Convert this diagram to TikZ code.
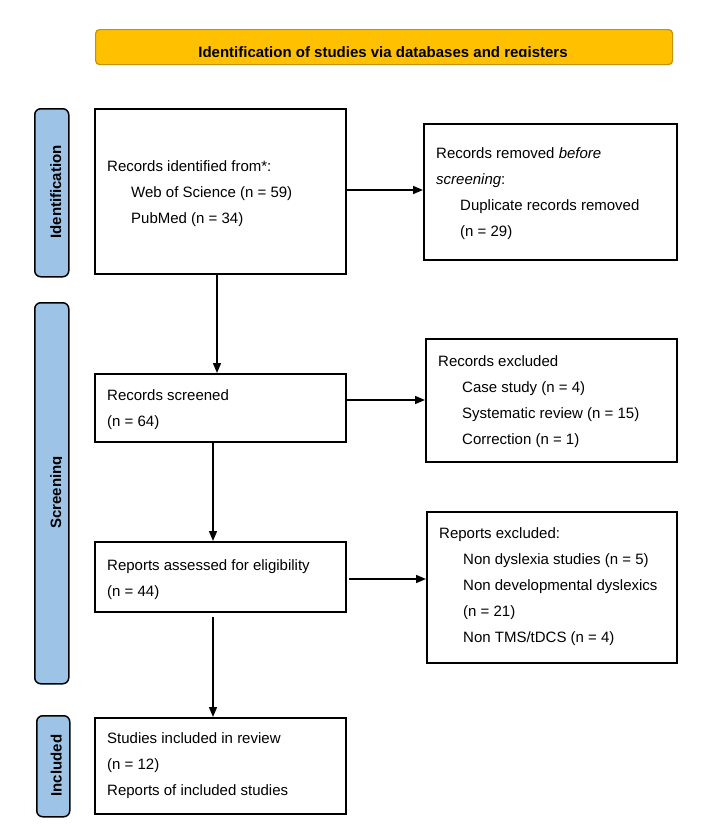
\documentclass[tikz,border=0pt]{standalone}
\usepackage{fontspec}
\setmainfont{Liberation Sans}
\usetikzlibrary{arrows.meta}
\definecolor{bannerfill}{HTML}{FFC000}
\definecolor{bannerdraw}{HTML}{C49500}
\definecolor{sideblue}{HTML}{9DC3E6}
\tikzset{
  box/.style={draw=black, line width=1.6pt, fill=white, rectangle, inner sep=0pt, anchor=north west},
  sidebox/.style={draw=black, line width=1.5pt, fill=sideblue, rectangle, rounded corners=6pt, inner sep=0pt, anchor=north west},
  banner/.style={draw=bannerdraw, line width=1.2pt, fill=bannerfill, rectangle, rounded corners=4pt, inner sep=0pt, anchor=north west},
  txt/.style={anchor=base west, inner sep=0pt, font=\fontsize{15}{18}\selectfont},
  sidetxt/.style={anchor=base, inner sep=0pt, rotate=90, font=\fontsize{15}{18}\selectfont\bfseries},
  bantxt/.style={anchor=base, inner sep=0pt, font=\fontsize{15}{18}\selectfont\bfseries},
  arr/.style={-{Triangle[length=10pt,width=8pt]}, line width=1.6pt}
}
\begin{document}
\begin{tikzpicture}[x=1pt,y=-1pt]
\useasboundingbox[fill=white] (0,0) rectangle (721,838);

% banner
\node[banner, minimum width=577pt, minimum height=35pt] (ban) at (95,29) {};
\begin{scope}
  \clip (95,29) rectangle (672,56.5);
  \node[bantxt] (bant) at (383,57.5) {Identification of studies via databases and registers};
\end{scope}

% side bars
\node[sidebox, minimum width=34pt, minimum height=168pt] (sid) at (34,108) {};
\node[sidebox, minimum width=34pt, minimum height=381pt] (sscr) at (34,302) {};
\node[sidebox, minimum width=33pt, minimum height=101pt] (sinc) at (36,715) {};
\begin{scope}
  \clip (30,100) rectangle (61.5,830);
  \node[sidetxt] (sidt) at (61,192) {Identification};
  \node[sidetxt] (sscrt) at (61,492.5) {Screening};
  \node[sidetxt] (sinct) at (61.5,765.5) {Included};
\end{scope}

% boxes
\node[box, minimum width=251pt, minimum height=165pt] (b1) at (94,108) {};
\node[box, minimum width=253pt, minimum height=136pt] (b2) at (423,123) {};
\node[box, minimum width=251pt, minimum height=68pt] (b3) at (94,373) {};
\node[box, minimum width=251pt, minimum height=123pt] (b4) at (425,338) {};
\node[box, minimum width=251pt, minimum height=70pt] (b5) at (94,541) {};
\node[box, minimum width=250pt, minimum height=151pt] (b6) at (426,511) {};
\node[box, minimum width=251pt, minimum height=96pt] (b7) at (94,717) {};

% texts
\node[txt] (b1a) at (107,171) {Records identified from*:};
\node[txt] (b1b) at (131,197) {Web of Science (n = 59)};
\node[txt] (b1c) at (131,223) {PubMed (n = 34)};

\node[txt] (b2a) at (436,158) {Records removed \textit{before}};
\node[txt] (b2b) at (436,184) {\textit{screening}:};
\node[txt] (b2c) at (460,210) {Duplicate records removed};
\node[txt] (b2d) at (460,236) {(n = 29)};

\node[txt] (b3a) at (107,400) {Records screened};
\node[txt] (b3b) at (107,426) {(n = 64)};

\node[txt] (b4a) at (438,366) {Records excluded};
\node[txt] (b4b) at (462,392) {Case study (n = 4)};
\node[txt] (b4c) at (462,418) {Systematic review (n = 15)};
\node[txt] (b4d) at (462,444) {Correction (n = 1)};

\node[txt] (b5a) at (107,570) {Reports assessed for eligibility};
\node[txt] (b5b) at (107,596) {(n = 44)};

\node[txt] (b6a) at (439,538) {Reports excluded:};
\node[txt] (b6b) at (463,564) {Non dyslexia studies (n = 5)};
\node[txt] (b6c) at (463,590) {Non developmental dyslexics};
\node[txt] (b6d) at (463,616) {(n = 21)};
\node[txt] (b6e) at (463,642) {Non TMS/tDCS (n = 4)};

\node[txt] (b7a) at (107,743) {Studies included in review};
\node[txt] (b7b) at (107,769) {(n = 12)};
\node[txt] (b7c) at (107,795) {Reports of included studies};

% connectors
\coordinate (a3) at (217,273);
\draw[arr] (b1.south -| a3) -- (b3.north -| a3);
\coordinate (a2) at (345,190);
\draw[arr] (b1.east |- a2) -- (a2 -| b2.west);
\coordinate (a4) at (345,400);
\draw[arr] (b3.east |- a4) -- (a4 -| b4.west);
\coordinate (a6) at (213,441);
\draw[arr] (b3.south -| a6) -- (b5.north -| a6);
\coordinate (a5) at (349,579);
\draw[arr] (a5) -- (a5 -| b6.west);
\coordinate (a7) at (213,617);
\draw[arr] (a7) -- (a7 |- b7.north);
\end{tikzpicture}
\end{document}
